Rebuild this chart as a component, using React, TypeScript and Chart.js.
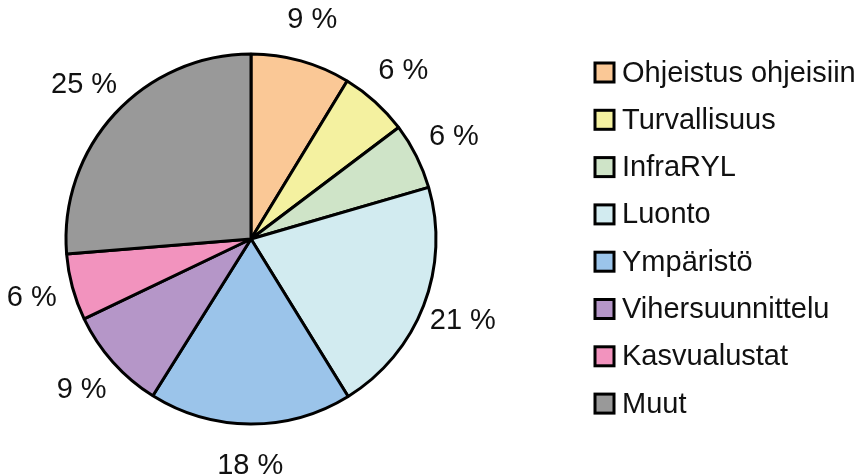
import React, { useEffect, useRef } from "react";
import { Chart, registerables } from "chart.js";

Chart.register(...registerables);

const categories = [
  "Ohjeistus ohjeisiin",
  "Turvallisuus",
  "InfraRYL",
  "Luonto",
  "Ympäristö",
  "Vihersuunnittelu",
  "Kasvualustat",
  "Muut",
];
const shares = [8.7, 6.0, 5.8, 20.7, 17.7, 9.0, 5.8, 26.3];
const percentLabels = ["9 %", "6 %", "6 %", "21 %", "18 %", "9 %", "6 %", "25 %"];
const colors = ["#FAC896", "#F4F1A0", "#CFE4C8", "#D2EBF0", "#9BC4EA", "#B596C8", "#F293BE", "#999999"];

const FONT = "'Liberation Sans', Arial, sans-serif";

const outsideLabels = {
  id: "outsideLabels",
  afterDatasetsDraw(chart: any) {
    const ctx = chart.ctx;
    const meta = chart.getDatasetMeta(0);
    ctx.save();
    ctx.font = `29px ${FONT}`;
    ctx.fillStyle = "#111";
    ctx.textAlign = "center";
    ctx.textBaseline = "middle";
    meta.data.forEach((arc: any, i: number) => {
      const p = arc.getProps(["x", "y", "startAngle", "endAngle", "outerRadius"], true);
      const mid = (p.startAngle + p.endAngle) / 2;
      const r = p.outerRadius + 42;
      ctx.fillText(percentLabels[i], p.x + Math.cos(mid) * r, p.y + Math.sin(mid) * r);
    });
    ctx.restore();
  },
};

const sideLegend = {
  id: "sideLegend",
  afterDraw(chart: any) {
    const ctx = chart.ctx;
    const labels = chart.data.labels as string[];
    const bg = chart.data.datasets[0].backgroundColor as string[];
    const boxX = 595;
    const startY = 72.5;
    const step = 47.3;
    const box = 19;
    ctx.save();
    ctx.font = `29px ${FONT}`;
    ctx.textAlign = "left";
    ctx.textBaseline = "middle";
    labels.forEach((lab, i) => {
      const cy = startY + i * step;
      ctx.fillStyle = bg[i];
      ctx.fillRect(boxX, cy - box / 2, box, box);
      ctx.lineWidth = 3;
      ctx.strokeStyle = "#000";
      ctx.strokeRect(boxX, cy - box / 2, box, box);
      ctx.fillStyle = "#111";
      ctx.fillText(lab, 622, cy + 1);
    });
    ctx.restore();
  },
};

export default function App() {
  const ref = useRef<HTMLCanvasElement>(null);
  useEffect(() => {
    document.body.style.margin = "0";
    const chart = new Chart(ref.current!, {
      type: "pie",
      data: {
        labels: categories,
        datasets: [
          {
            data: shares,
            backgroundColor: colors,
            borderColor: "#000",
            borderWidth: 3,
          },
        ],
      },
      options: {
        animation: false,
        responsive: false,
        radius: 185,
        layout: { padding: { left: 66, top: 54, right: 422, bottom: 50 } },
        plugins: {
          legend: { display: false },
          tooltip: { enabled: false },
        },
      } as any,
      plugins: [outsideLabels, sideLegend],
    });
    return () => chart.destroy();
  }, []);
  return (
    <div style={{ position: "absolute", left: 0, top: 0, width: 858, height: 474, background: "#fff" }}>
      <canvas ref={ref} width={858} height={474} />
    </div>
  );
}
